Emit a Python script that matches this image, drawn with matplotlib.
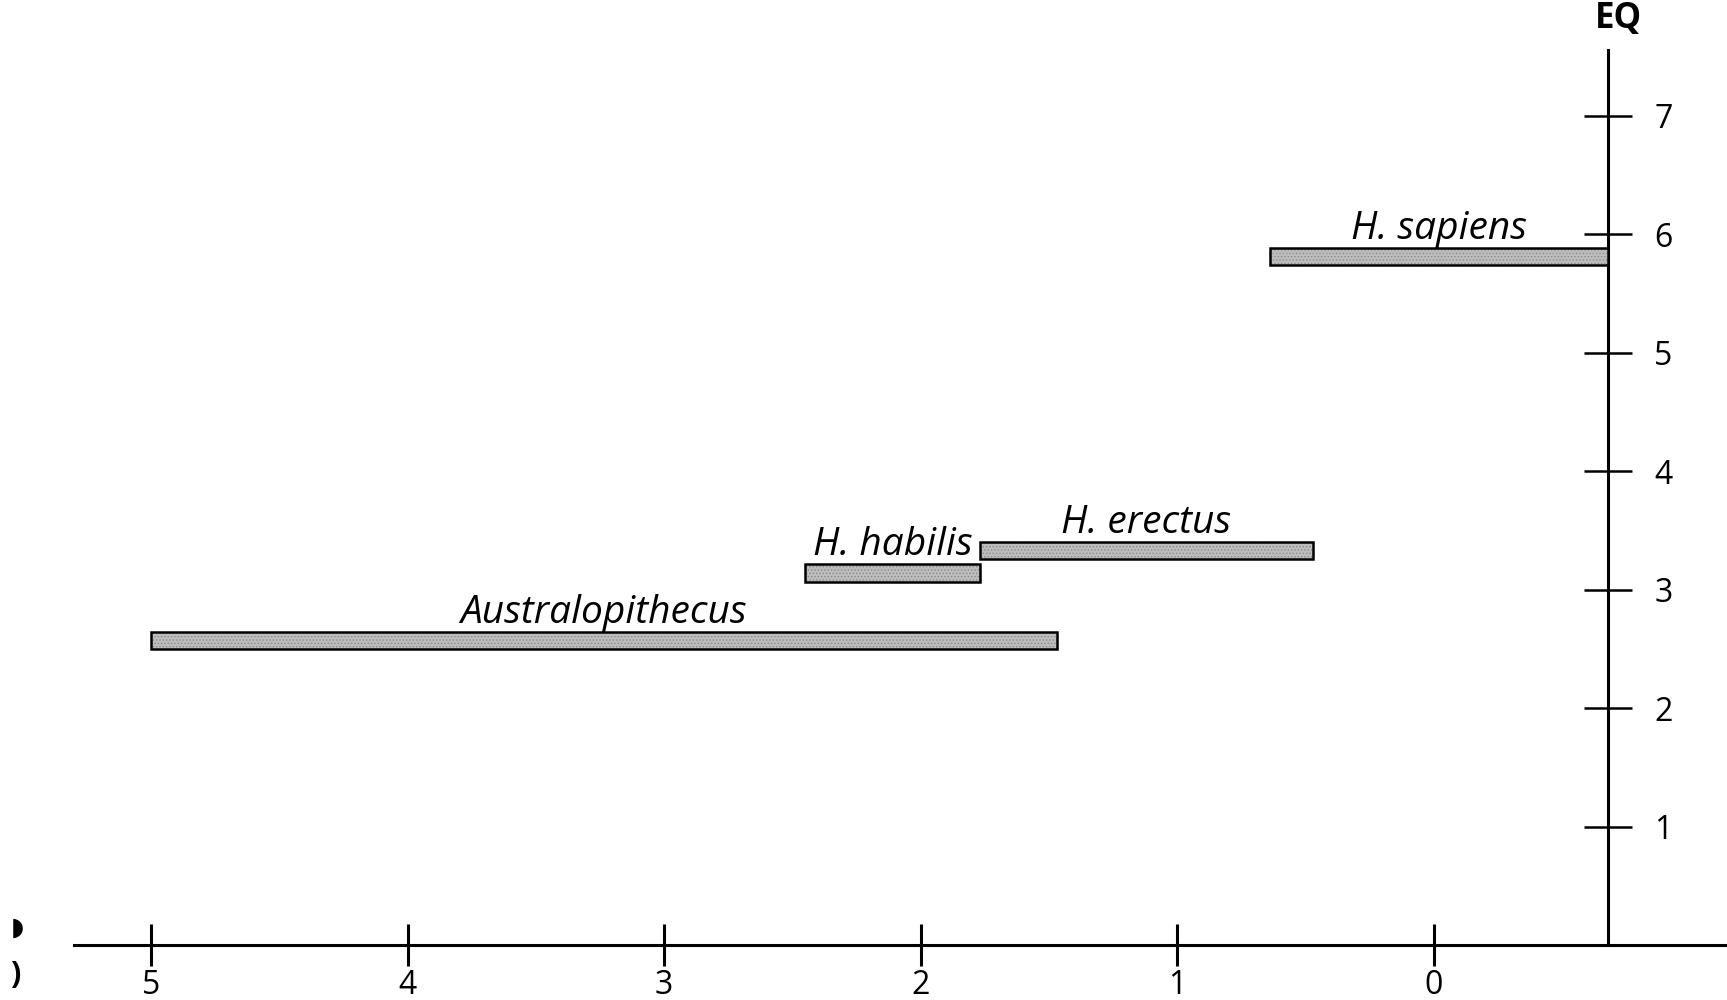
import matplotlib
matplotlib.use("Agg")
import matplotlib.pyplot as plt

plt.rcParams['font.family'] = ['Open Sans', 'DejaVu Sans']
plt.rcParams['hatch.linewidth'] = 0.6

# Species ranges (million years ago) and encephalization quotient
species = ["Australopithecus", "H. habilis", "H. erectus", "H. sapiens"]
start_mya = [5.0, 2.45, 1.77, 0.64]
end_mya = [1.47, 1.77, 0.47, -0.68]
eq_level = [2.57, 3.14, 3.33, 5.81]

x_ticks = [5, 4, 3, 2, 1, 0]
y_ticks = [1, 2, 3, 4, 5, 6, 7]

fig = plt.figure(figsize=(17.27, 10), dpi=100)
ax = fig.add_axes([0, 0, 1, 1])
ax.set_xlim(5.588, -1.142)
ax.set_ylim(-0.464, 7.975)
ax.patch.set_visible(False)

# bars: halftone-like fill, then black outline
for s, e, y in zip(start_mya, end_mya, eq_level):
    ax.barh(y, width=e - s, left=s, height=0.15, color='#bdbdbd',
            edgecolor='#8a8a8a', hatch='.....', linewidth=0, zorder=3)
    ax.barh(y, width=e - s, left=s, height=0.15, color='none',
            edgecolor='black', linewidth=1.8, zorder=3)

# labels centered above bars
for name, s, e, y in zip(species, start_mya, end_mya, eq_level):
    ax.text((s + e) / 2, y + 0.15, name, ha='center', va='baseline',
            fontsize=28, style='italic', zorder=4)

# axes lines
ax.spines['top'].set_visible(False)
ax.spines['left'].set_visible(False)
ax.spines['bottom'].set_position(('data', 0))
ax.spines['bottom'].set_bounds(5.30, -1.142)
ax.spines['bottom'].set_linewidth(2.2)
ax.spines['right'].set_position(('data', -0.68))
ax.spines['right'].set_bounds(0, 7.55)
ax.spines['right'].set_linewidth(2.2)

ax.set_xticks(x_ticks)
ax.set_xticklabels([str(t) for t in x_ticks])
ax.tick_params(axis='x', direction='inout', length=30, width=2.2,
               labelsize=23, pad=2)
ax.yaxis.set_ticks_position('right')
ax.set_yticks(y_ticks)
ax.set_yticklabels([str(t) for t in y_ticks])
ax.tick_params(axis='y', direction='inout', length=34, width=1.8,
               labelsize=23, pad=16)

ax.text(-0.72, 7.66, "EQ", ha='center', va='bottom', fontsize=25,
        fontweight='bold')

# cropped marks at the left edge
fig.text(0.006, 1 - 928 / 1000, "\u25D7", ha='left', va='center', fontsize=18,
         family='DejaVu Sans')
fig.text(0.006, 1 - 975 / 1000, ")", ha='left', va='center', fontsize=22,
         fontweight='bold')

plt.savefig("out.png", dpi=100)
